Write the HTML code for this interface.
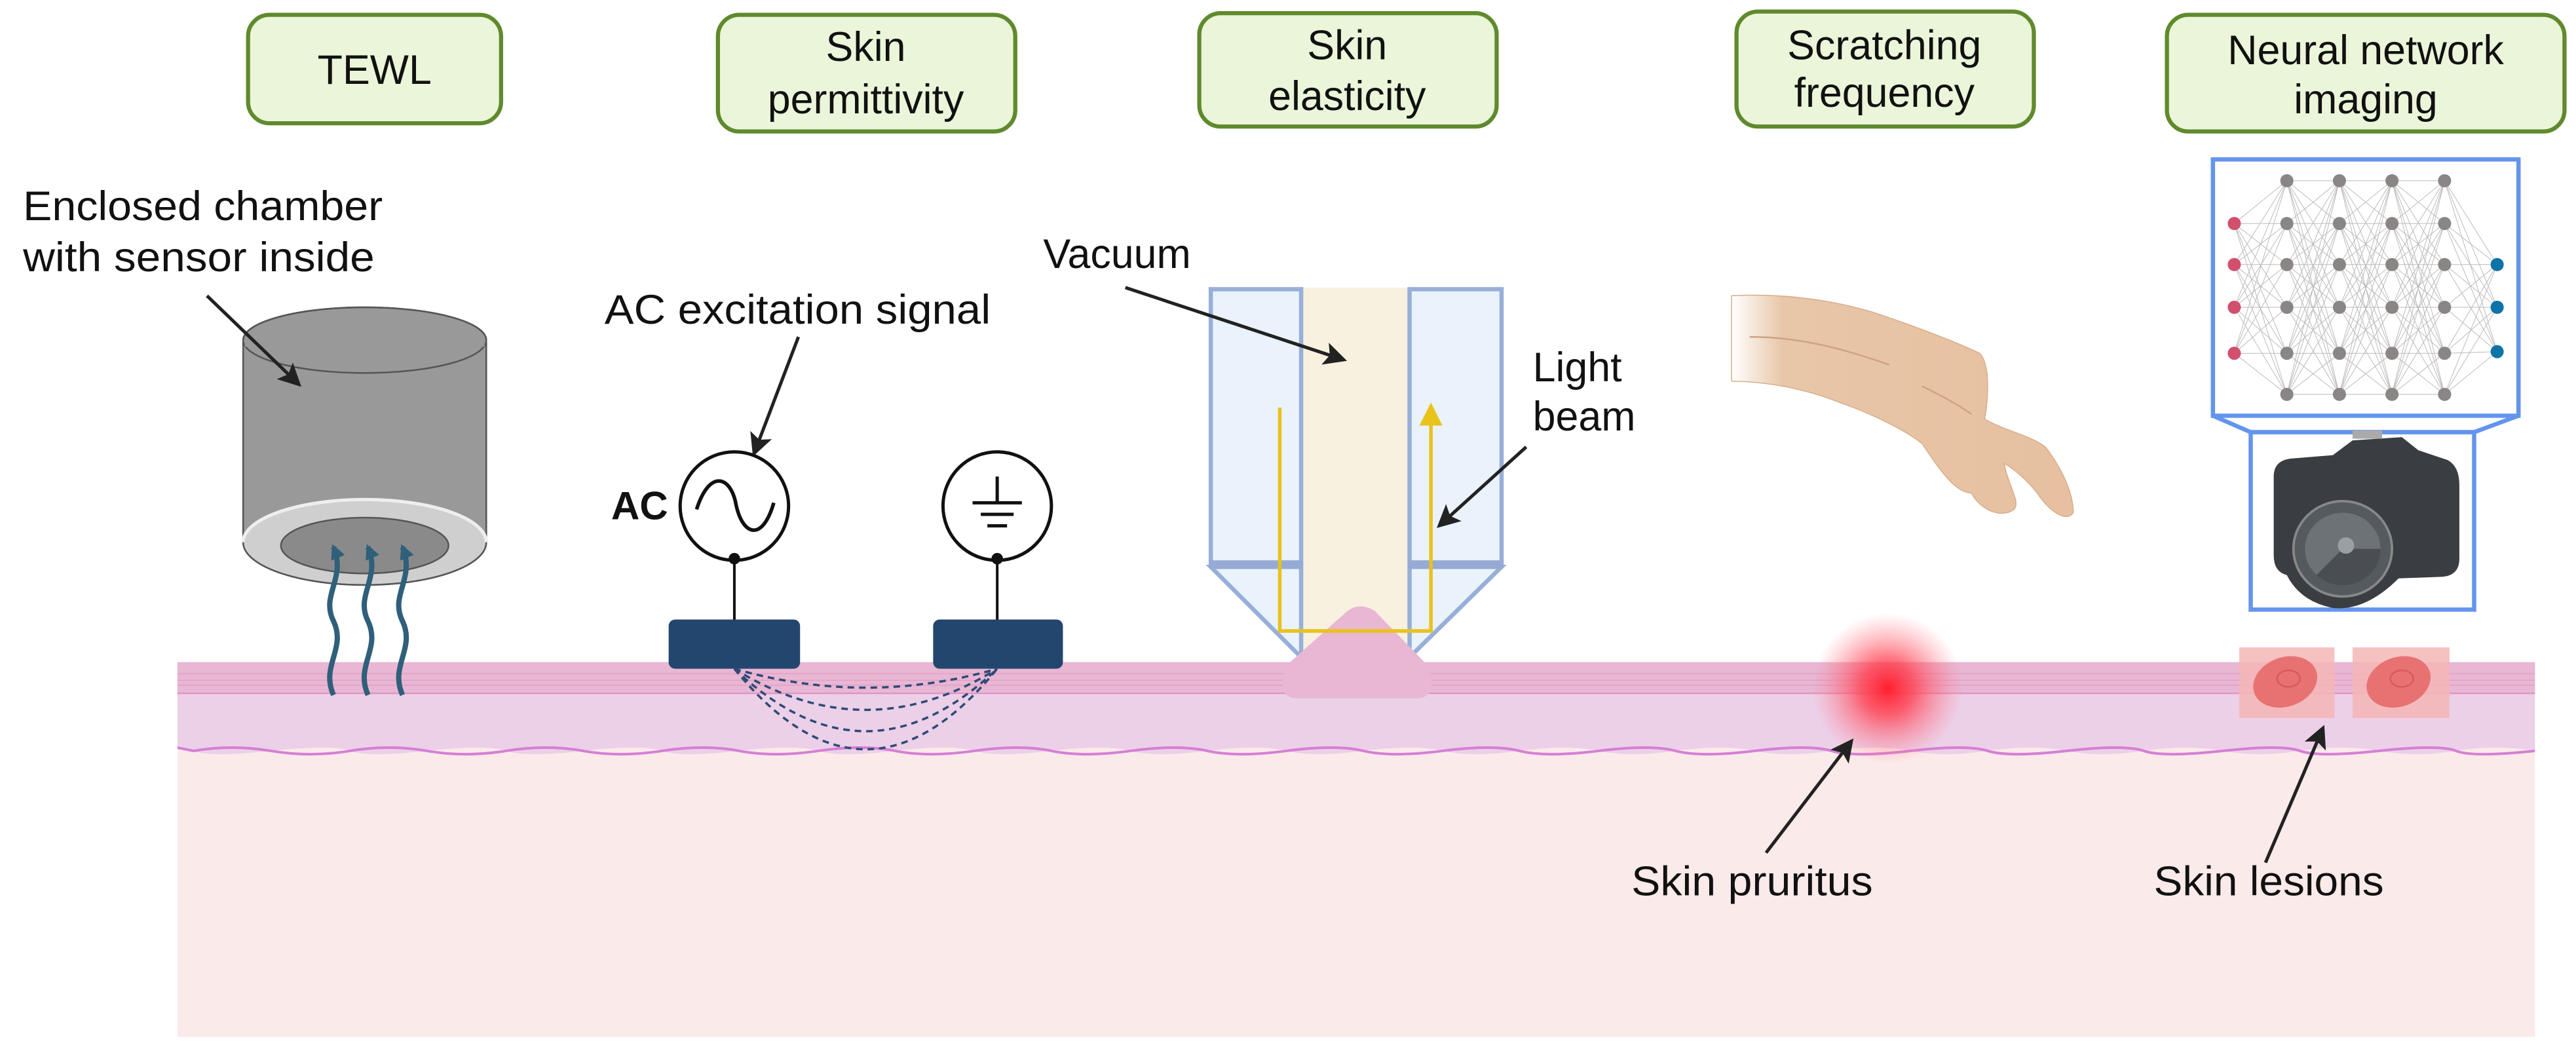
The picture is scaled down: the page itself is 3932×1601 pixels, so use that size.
<!DOCTYPE html>
<html><head><meta charset="utf-8"><style>
html,body{margin:0;padding:0;background:#fff;width:3932px;height:1601px;overflow:hidden}
svg{display:block}
text{font-family:"Liberation Sans",sans-serif;fill:#111}
</style></head><body>
<svg width="3932" height="1601" viewBox="0 0 1568 638.4" xmlns="http://www.w3.org/2000/svg">
<defs>
<marker id="ah" markerWidth="10" markerHeight="10" refX="8" refY="5" orient="auto" markerUnits="userSpaceOnUse" viewBox="0 0 10 10">
<path d="M0,0 L10,5 L0,10 L2,5 Z" fill="#222"/></marker>
<marker id="ah2" markerWidth="14" markerHeight="14" refX="12" refY="7" orient="auto" markerUnits="userSpaceOnUse" viewBox="0 0 14 14">
<path d="M0,0 L14,7 L0,14 L3,7 Z" fill="#222"/></marker>
<marker id="bh" markerWidth="9" markerHeight="9" refX="7" refY="4.5" orient="auto" markerUnits="userSpaceOnUse" viewBox="0 0 9 9">
<path d="M0,0 L9,4.5 L0,9 Z" fill="#2f5f7a"/></marker>
<radialGradient id="red"><stop offset="0" stop-color="#ff2030"/><stop offset="0.35" stop-color="#ff4050" stop-opacity="0.8"/><stop offset="1" stop-color="#ff8090" stop-opacity="0"/></radialGradient>
<linearGradient id="handg" x1="0" x2="1"><stop offset="0" stop-color="#e8c6a8" stop-opacity="0"/><stop offset="0.15" stop-color="#e8c6a8"/><stop offset="1" stop-color="#e6c0a0"/></linearGradient>
</defs>

<!-- skin -->
<rect x="108" y="403" width="1435" height="228" fill="#fbeaea"/>
<path d="M108,403 H1543 V457 Q1519,453 1495,457 T1448,457 T1400,457 T1353,457 T1305,457 T1258,457 T1210,457 T1163,457 T1115,457 T1068,457 T1020,457 T973,457 T925,457 T878,457 T830,457 T783,457 T735,457 T688,457 T640,457 T593,457 T545,457 T498,457 T450,457 T403,457 T355,457 T308,457 T260,457 T213,457 T165,457 T118,457 L108,455 Z" fill="#ecd0e8"/>
<path d="M108,455 L118,457 Q141,453 165,457 T213,457 T260,457 T308,457 T355,457 T403,457 T450,457 T498,457 T545,457 T593,457 T640,457 T688,457 T735,457 T783,457 T830,457 T878,457 T925,457 T973,457 T1020,457 T1068,457 T1115,457 T1163,457 T1210,457 T1258,457 T1305,457 T1353,457 T1400,457 T1448,457 T1495,457 T1543,457" fill="none" stroke="#d67fd6" stroke-width="1.6"/>
<rect x="108" y="403" width="1435" height="19" fill="#e8b7d3"/>
<g stroke="#e39ac6" stroke-width="0.6" opacity="0.8">
<line x1="108" y1="410" x2="1543" y2="410"/><line x1="108" y1="414" x2="1543" y2="414"/><line x1="108" y1="417" x2="1543" y2="417"/>
</g>
<line x1="108" y1="422" x2="1543" y2="422" stroke="#df8cc4" stroke-width="0.8"/>

<!-- header boxes -->
<g stroke="#5f8a2d" stroke-width="2.5" fill="#ebf5d9">
<rect x="151" y="9" width="154" height="66" rx="13"/>
<rect x="437" y="9" width="181" height="71" rx="13"/>
<rect x="730" y="8" width="181" height="69" rx="13"/>
<rect x="1057" y="7" width="181" height="70" rx="13"/>
<rect x="1319" y="9" width="242" height="71" rx="13"/>
</g>
<g font-size="25" text-anchor="middle">
<text x="228" y="51">TEWL</text>
<text x="527" y="37">Skin</text><text x="527" y="69">permittivity</text>
<text x="820" y="36">Skin</text><text x="820" y="67">elasticity</text>
<text x="1147" y="36">Scratching</text><text x="1147" y="65">frequency</text>
<text x="1440" y="39">Neural network</text><text x="1440" y="69">imaging</text>
</g>

<!-- TEWL -->
<text x="14" y="134" font-size="25" textLength="219" lengthAdjust="spacingAndGlyphs">Enclosed chamber</text>
<text x="14" y="165" font-size="25" textLength="214" lengthAdjust="spacingAndGlyphs">with sensor inside</text>
<path d="M148,207 V330 A74,26 0 0 0 296,330 V207 Z" fill="#999" stroke="#555" stroke-width="1"/>
<ellipse cx="222" cy="207" rx="74" ry="20" fill="#999" stroke="#555" stroke-width="1"/>
<path d="M148,207 A74,20 0 0 1 296,207" fill="none" stroke="#555" stroke-width="1"/>
<rect x="149" y="207" width="146" height="4" fill="#999"/>
<ellipse cx="222" cy="330" rx="74" ry="26" fill="#cfcfcf" stroke="#555" stroke-width="1"/>
<path d="M148,330 A74,26 0 0 1 296,330" fill="none" stroke="#eee" stroke-width="2"/>
<ellipse cx="222" cy="332" rx="51" ry="17" fill="#8a8a8a" stroke="#555" stroke-width="1"/>
<line x1="126" y1="180" x2="182" y2="234" stroke="#222" stroke-width="2" marker-end="url(#ah2)"/>
<g fill="none" stroke="#2f5f7a" stroke-width="3.2" marker-end="url(#bh)">
<path d="M203,423 C195,405 211,395 203,378 C195,362 211,352 203,333"/>
<path d="M224,423 C216,405 232,395 224,378 C216,362 232,352 224,333"/>
<path d="M245,423 C237,405 253,395 245,378 C237,362 253,352 245,333"/>
</g>

<!-- permittivity -->
<text x="368" y="197" font-size="25" textLength="235" lengthAdjust="spacingAndGlyphs">AC excitation signal</text>
<line x1="486" y1="205" x2="459" y2="276" stroke="#222" stroke-width="2" marker-end="url(#ah2)"/>
<circle cx="447" cy="308" r="33" fill="#fff" stroke="#111" stroke-width="2"/>
<path d="M424,310 C432,285 445,290 448,307 C452,326 464,330 471,306" fill="none" stroke="#111" stroke-width="2.2"/>
<text x="372" y="316" font-size="24" font-weight="bold">AC</text>
<circle cx="607" cy="308" r="33" fill="#fff" stroke="#111" stroke-width="2"/>
<g stroke="#111" stroke-width="2"><line x1="607" y1="290" x2="607" y2="306"/><line x1="592" y1="306" x2="622" y2="306"/><line x1="597" y1="313" x2="617" y2="313"/><line x1="601" y1="320" x2="613" y2="320"/></g>
<g stroke="#111" stroke-width="1.6"><line x1="447" y1="340" x2="447" y2="378"/><line x1="607" y1="340" x2="607" y2="378"/></g>
<circle cx="447" cy="340" r="3.5" fill="#111"/><circle cx="607" cy="340" r="3.5" fill="#111"/>
<rect x="407" y="377" width="80" height="30" rx="4" fill="#23466f"/>
<rect x="568" y="377" width="79" height="30" rx="4" fill="#23466f"/>
<g fill="none" stroke="#2e4a78" stroke-width="1.4" stroke-dasharray="4,3">
<path d="M447,407 Q527,430 607,407"/><path d="M447,407 Q527,457 607,407"/><path d="M447,407 Q527,483 607,407"/><path d="M447,407 Q527,505 607,407"/>
</g>

<!-- elasticity -->
<rect x="792" y="175" width="66" height="227" fill="#f8f1e0"/>
<g fill="#eaf2fb" stroke="#98afd8" stroke-width="2.6">
<rect x="737" y="176" width="55" height="167"/>
<rect x="858" y="176" width="56" height="167"/>
<path d="M737,345 L792,400 V345 Z"/>
<path d="M914,345 L858,400 V345 Z"/>
</g>
<rect x="736" y="341" width="57" height="5" fill="#95aad4"/>
<rect x="857" y="341" width="58" height="5" fill="#95aad4"/>
<path d="M820,372 Q828,366 837,372 L869,405 Q876,425 862,425 H790 Q776,425 783,405 Z" fill="#e8b7d3"/>
<path d="M779,248 V384 H871 V258" fill="none" stroke="#e9c21c" stroke-width="2.2"/>
<path d="M864,259 L871,245 L878,259 Z" fill="#e9c21c"/>
<text x="635" y="163" font-size="25">Vacuum</text>
<line x1="685" y1="175" x2="818" y2="219" stroke="#222" stroke-width="2" marker-end="url(#ah2)"/>
<text x="933" y="232" font-size="25">Light</text><text x="933" y="262" font-size="25">beam</text>
<line x1="929" y1="272" x2="876" y2="320" stroke="#222" stroke-width="2" marker-end="url(#ah2)"/>

<!-- scratching -->
<path d="M1054,180 C1090,178 1120,184 1140,190 C1170,200 1195,210 1205,215 C1212,222 1210,245 1208,255 C1220,262 1236,265 1245,272 C1255,285 1262,300 1262,312 C1258,318 1248,312 1240,300 C1232,290 1225,285 1220,282 C1222,295 1230,305 1226,310 C1218,316 1205,310 1200,300 C1190,300 1180,285 1170,270 C1160,262 1140,252 1120,245 C1095,235 1070,232 1054,232 Z" fill="url(#handg)" stroke="#d8ae8c" stroke-width="0.6"/>
<path d="M1065,205 C1100,205 1130,215 1150,222 M1170,235 C1180,240 1190,245 1200,252" stroke="#cfa282" stroke-width="1" fill="none"/>
<circle cx="1149" cy="419" r="46" fill="url(#red)"/>
<text x="993" y="545" font-size="25" textLength="147" lengthAdjust="spacingAndGlyphs">Skin pruritus</text>
<line x1="1075" y1="519" x2="1127" y2="451" stroke="#222" stroke-width="2" marker-end="url(#ah2)"/>

<!-- neural network -->
<g stroke="#bbb" stroke-width="0.4" fill="none" id="nn">
<path d="M1360,136 L1392,110 M1360,136 L1392,136 M1360,136 L1392,161 M1360,136 L1392,187 M1360,136 L1392,215 M1360,136 L1392,240
M1360,161 L1392,110 M1360,161 L1392,136 M1360,161 L1392,161 M1360,161 L1392,187 M1360,161 L1392,215 M1360,161 L1392,240
M1360,187 L1392,110 M1360,187 L1392,136 M1360,187 L1392,161 M1360,187 L1392,187 M1360,187 L1392,215 M1360,187 L1392,240
M1360,215 L1392,110 M1360,215 L1392,136 M1360,215 L1392,161 M1360,215 L1392,187 M1360,215 L1392,215 M1360,215 L1392,240"/>
<path d="M1392,110 L1424,110 M1392,110 L1424,136 M1392,110 L1424,161 M1392,110 L1424,187 M1392,110 L1424,215 M1392,110 L1424,240 M1392,136 L1424,110 M1392,136 L1424,136 M1392,136 L1424,161 M1392,136 L1424,187 M1392,136 L1424,215 M1392,136 L1424,240 M1392,161 L1424,110 M1392,161 L1424,136 M1392,161 L1424,161 M1392,161 L1424,187 M1392,161 L1424,215 M1392,161 L1424,240 M1392,187 L1424,110 M1392,187 L1424,136 M1392,187 L1424,161 M1392,187 L1424,187 M1392,187 L1424,215 M1392,187 L1424,240 M1392,215 L1424,110 M1392,215 L1424,136 M1392,215 L1424,161 M1392,215 L1424,187 M1392,215 L1424,215 M1392,215 L1424,240 M1392,240 L1424,110 M1392,240 L1424,136 M1392,240 L1424,161 M1392,240 L1424,187 M1392,240 L1424,215 M1392,240 L1424,240"/>
<path transform="translate(32,0)" d="M1392,110 L1424,110 M1392,110 L1424,136 M1392,110 L1424,161 M1392,110 L1424,187 M1392,110 L1424,215 M1392,110 L1424,240 M1392,136 L1424,110 M1392,136 L1424,136 M1392,136 L1424,161 M1392,136 L1424,187 M1392,136 L1424,215 M1392,136 L1424,240 M1392,161 L1424,110 M1392,161 L1424,136 M1392,161 L1424,161 M1392,161 L1424,187 M1392,161 L1424,215 M1392,161 L1424,240 M1392,187 L1424,110 M1392,187 L1424,136 M1392,187 L1424,161 M1392,187 L1424,187 M1392,187 L1424,215 M1392,187 L1424,240 M1392,215 L1424,110 M1392,215 L1424,136 M1392,215 L1424,161 M1392,215 L1424,187 M1392,215 L1424,215 M1392,215 L1424,240 M1392,240 L1424,110 M1392,240 L1424,136 M1392,240 L1424,161 M1392,240 L1424,187 M1392,240 L1424,215 M1392,240 L1424,240"/>
<path transform="translate(64,0)" d="M1392,110 L1424,110 M1392,110 L1424,136 M1392,110 L1424,161 M1392,110 L1424,187 M1392,110 L1424,215 M1392,110 L1424,240 M1392,136 L1424,110 M1392,136 L1424,136 M1392,136 L1424,161 M1392,136 L1424,187 M1392,136 L1424,215 M1392,136 L1424,240 M1392,161 L1424,110 M1392,161 L1424,136 M1392,161 L1424,161 M1392,161 L1424,187 M1392,161 L1424,215 M1392,161 L1424,240 M1392,187 L1424,110 M1392,187 L1424,136 M1392,187 L1424,161 M1392,187 L1424,187 M1392,187 L1424,215 M1392,187 L1424,240 M1392,215 L1424,110 M1392,215 L1424,136 M1392,215 L1424,161 M1392,215 L1424,187 M1392,215 L1424,215 M1392,215 L1424,240 M1392,240 L1424,110 M1392,240 L1424,136 M1392,240 L1424,161 M1392,240 L1424,187 M1392,240 L1424,215 M1392,240 L1424,240"/>
<path d="M1488,110 L1520,161 M1488,110 L1520,187 M1488,110 L1520,214 M1488,136 L1520,161 M1488,136 L1520,187 M1488,136 L1520,214 M1488,161 L1520,161 M1488,161 L1520,187 M1488,161 L1520,214 M1488,187 L1520,161 M1488,187 L1520,187 M1488,187 L1520,214 M1488,215 L1520,161 M1488,215 L1520,187 M1488,215 L1520,214 M1488,240 L1520,161 M1488,240 L1520,187 M1488,240 L1520,214"/>
</g>
<g fill="#d24f6e"><circle cx="1360" cy="136" r="4"/><circle cx="1360" cy="161" r="4"/><circle cx="1360" cy="187" r="4"/><circle cx="1360" cy="215" r="4"/></g>
<g fill="#8a8685">
<circle cx="1392" cy="110" r="4"/><circle cx="1392" cy="136" r="4"/><circle cx="1392" cy="161" r="4"/><circle cx="1392" cy="187" r="4"/><circle cx="1392" cy="215" r="4"/><circle cx="1392" cy="240" r="4"/>
<circle cx="1424" cy="110" r="4"/><circle cx="1424" cy="136" r="4"/><circle cx="1424" cy="161" r="4"/><circle cx="1424" cy="187" r="4"/><circle cx="1424" cy="215" r="4"/><circle cx="1424" cy="240" r="4"/>
<circle cx="1456" cy="110" r="4"/><circle cx="1456" cy="136" r="4"/><circle cx="1456" cy="161" r="4"/><circle cx="1456" cy="187" r="4"/><circle cx="1456" cy="215" r="4"/><circle cx="1456" cy="240" r="4"/>
<circle cx="1488" cy="110" r="4"/><circle cx="1488" cy="136" r="4"/><circle cx="1488" cy="161" r="4"/><circle cx="1488" cy="187" r="4"/><circle cx="1488" cy="215" r="4"/><circle cx="1488" cy="240" r="4"/>
</g>
<g fill="#0e74a8"><circle cx="1520" cy="161" r="4"/><circle cx="1520" cy="187" r="4"/><circle cx="1520" cy="214" r="4"/></g>
<g fill="none" stroke="#6495ed" stroke-width="2.6">
<rect x="1347" y="97" width="186" height="156"/>
<path d="M1347,253 L1370,263 H1506 L1533,253"/>
<rect x="1370" y="263" width="136" height="108"/>
</g>
<!-- camera -->
<path d="M1384,290 Q1384,280 1395,279 L1420,277 L1432,268 L1462,266 L1472,274 L1490,280 Q1497,284 1497,295 L1497,340 Q1497,350 1487,351 L1460,352 Q1440,372 1420,370 Q1400,366 1392,350 Q1384,348 1384,338 Z" fill="#3a3d41"/>
<rect x="1432" y="262" width="18" height="5" fill="#aaa"/>
<ellipse cx="1426" cy="334" rx="30" ry="29" fill="#555a5e" stroke="#888" stroke-width="1.5"/>
<ellipse cx="1426" cy="334" rx="23" ry="22" fill="#6d7276"/>
<path d="M1426,334 L1449,334 A23,22 0 0 1 1410,350 Z" fill="#4a4e52"/>
<circle cx="1428" cy="332" r="5" fill="#9a9fa3"/>
<!-- lesions -->
<rect x="1363" y="394" width="58" height="43" fill="#f4b6b6" opacity="0.85"/>
<rect x="1432" y="394" width="59" height="43" fill="#f4b6b6" opacity="0.85"/>
<ellipse cx="1391" cy="415" rx="20" ry="15" fill="#e87272" transform="rotate(-20 1391 415)"/>
<ellipse cx="1460" cy="415" rx="20" ry="15" fill="#e87272" transform="rotate(-20 1460 415)"/>
<ellipse cx="1393" cy="413" rx="7" ry="5" fill="none" stroke="#d85a5a" stroke-width="1"/>
<ellipse cx="1462" cy="413" rx="7" ry="5" fill="none" stroke="#d85a5a" stroke-width="1"/>
<text x="1311" y="545" font-size="25" textLength="140" lengthAdjust="spacingAndGlyphs">Skin lesions</text>
<line x1="1379" y1="525" x2="1414" y2="443" stroke="#222" stroke-width="2" marker-end="url(#ah2)"/>
</svg>
</body></html>
